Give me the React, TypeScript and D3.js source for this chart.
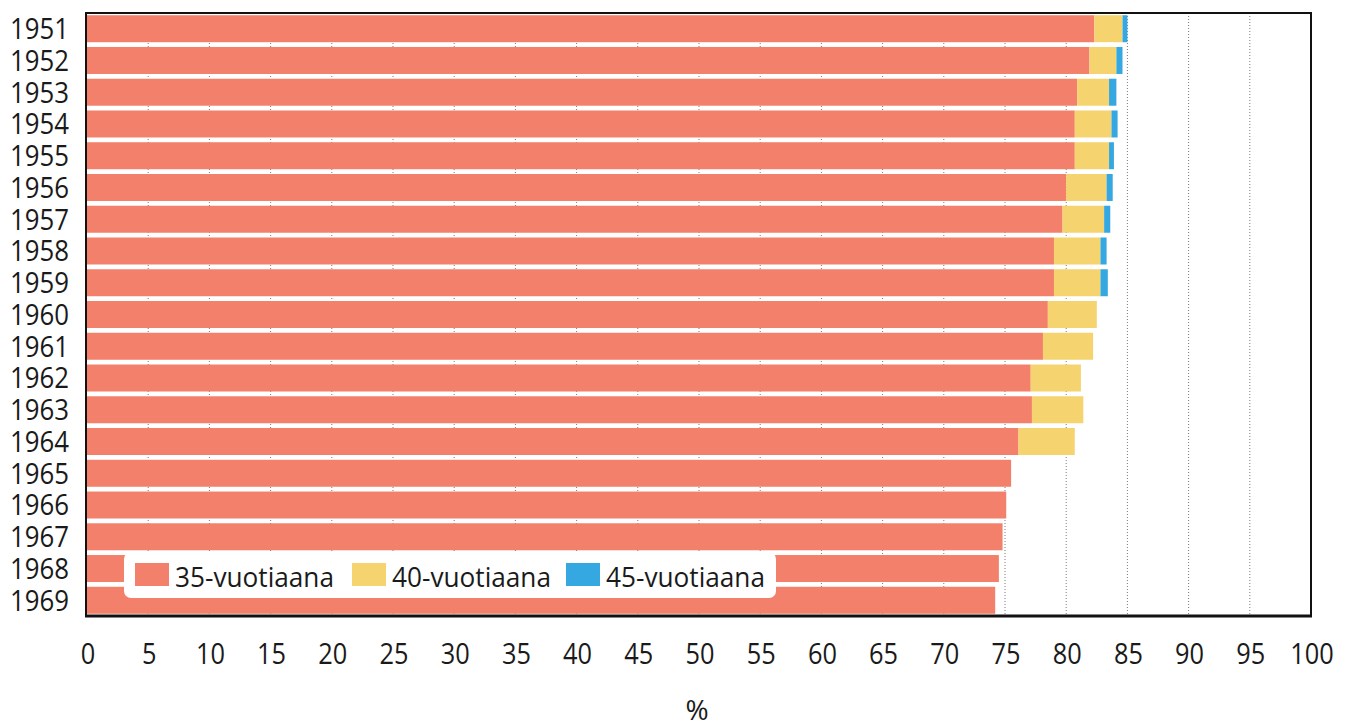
import React, { useEffect, useRef } from "react";
import * as d3 from "d3";

// data (share of women who had married by age X, %)
const years = ["1951", "1952", "1953", "1954", "1955", "1956", "1957", "1958", "1959", "1960",
  "1961", "1962", "1963", "1964", "1965", "1966", "1967", "1968", "1969"];
const age35 = [82.3, 81.9, 80.9, 80.7, 80.7, 80.0, 79.7, 79.0, 79.0, 78.5,
  78.1, 77.1, 77.2, 76.1, 75.5, 75.1, 74.8, 74.5, 74.2];
const age40 = [2.3, 2.2, 2.6, 3.0, 2.8, 3.3, 3.4, 3.8, 3.8, 4.0,
  4.1, 4.1, 4.2, 4.6, 0, 0, 0, 0, 0];
const age45 = [0.4, 0.5, 0.6, 0.5, 0.4, 0.5, 0.5, 0.5, 0.6, 0,
  0, 0, 0, 0, 0, 0, 0, 0, 0];
const seriesKeys = ["35-vuotiaana", "40-vuotiaana", "45-vuotiaana"];
const seriesColors = ["#f3806a", "#f5d36e", "#36a8e1"];
const xTicks = [0, 5, 10, 15, 20, 25, 30, 35, 40, 45, 50, 55, 60, 65, 70, 75, 80, 85, 90, 95, 100];

const W = 1356;
const H = 727;
const FONT = "'Open Sans', sans-serif";

function Chart() {
  const ref = useRef<SVGSVGElement | null>(null);

  useEffect(() => {
    const svg = d3.select(ref.current);
    svg.selectAll("*").remove();

    const left = 87, right = 1311, top = 13, bottom = 616;
    const x = d3.scaleLinear().domain([0, 100]).range([left, right]);
    const y = d3.scaleBand<string>().domain(years).range([top, bottom])
      .paddingInner(0.15).paddingOuter(0.07);

    const table = years.map((yr, i) => ({
      year: yr,
      [seriesKeys[0]]: age35[i],
      [seriesKeys[1]]: age40[i],
      [seriesKeys[2]]: age45[i],
    }));
    const stacked = d3.stack<any>().keys(seriesKeys)(table);

    // dotted grid behind the bars
    svg.append("g")
      .selectAll("line")
      .data(xTicks.filter(t => t > 0 && t < 100))
      .join("line")
      .attr("x1", d => x(d)).attr("x2", d => x(d))
      .attr("y1", top).attr("y2", bottom)
      .attr("stroke", "#7a7a7a")
      .attr("stroke-width", 1)
      .attr("stroke-dasharray", "1 2");

    svg.append("g")
      .selectAll("g")
      .data(stacked)
      .join("g")
      .attr("fill", (d, i) => seriesColors[i])
      .selectAll("rect")
      .data(d => d)
      .join("rect")
      .attr("x", d => x(d[0]))
      .attr("width", d => Math.max(0, x(d[1]) - x(d[0])))
      .attr("y", d => y(d.data.year) as number)
      .attr("height", y.bandwidth());

    // frame
    svg.append("rect")
      .attr("x", left - 1).attr("y", top)
      .attr("width", right - left + 1).attr("height", bottom - top)
      .attr("fill", "none").attr("stroke", "#111").attr("stroke-width", 2);
    svg.append("line")
      .attr("x1", left - 2).attr("x2", right + 1)
      .attr("y1", bottom).attr("y2", bottom)
      .attr("stroke", "#111").attr("stroke-width", 3);

    // year labels (narrow face, squeezed a bit like the original)
    svg.append("g")
      .selectAll("text")
      .data(years)
      .join("text")
      .attr("x", 69)
      .attr("y", d => (y(d) as number) + y.bandwidth() / 2)
      .attr("dy", "0.36em")
      .attr("text-anchor", "end")
      .attr("textLength", 59)
      .attr("lengthAdjust", "spacingAndGlyphs")
      .style("font-family", FONT)
      .style("font-size", "29px")
      .attr("fill", "#1a1a1a")
      .text(d => d);

    // x tick labels
    svg.append("g")
      .selectAll("text")
      .data(xTicks)
      .join("text")
      .attr("x", d => x(d) + 1)
      .attr("y", 664)
      .attr("text-anchor", "middle")
      .attr("textLength", d => String(d).length * 14.5)
      .attr("lengthAdjust", "spacingAndGlyphs")
      .style("font-family", FONT)
      .style("font-size", "29px")
      .attr("fill", "#1a1a1a")
      .text(d => d);

    svg.append("text")
      .attr("x", 697).attr("y", 720)
      .attr("text-anchor", "middle")
      .style("font-family", FONT)
      .style("font-size", "28px")
      .attr("fill", "#1a1a1a")
      .text("%");

    // legend
    const legend = svg.append("g");
    legend.append("rect")
      .attr("x", 124).attr("y", 552)
      .attr("width", 652).attr("height", 46)
      .attr("rx", 7)
      .attr("fill", "#fff");
    const itemX = [135, 352, 566];
    seriesKeys.forEach((k, i) => {
      legend.append("rect")
        .attr("x", itemX[i]).attr("y", 563)
        .attr("width", 34).attr("height", 23)
        .attr("fill", seriesColors[i]);
      legend.append("text")
        .attr("x", itemX[i] + 40).attr("y", 587)
        .attr("textLength", 159)
        .attr("lengthAdjust", "spacingAndGlyphs")
        .style("font-family", FONT)
        .style("font-size", "28px")
        .attr("fill", "#1a1a1a")
        .text(k);
    });
  }, []);

  return <svg ref={ref} width={W} height={H} style={{ display: "block" }} />;
}

export default function App() {
  return (
    <div style={{ position: "absolute", left: 0, top: 0, background: "#fff" }}>
      <Chart />
    </div>
  );
}
